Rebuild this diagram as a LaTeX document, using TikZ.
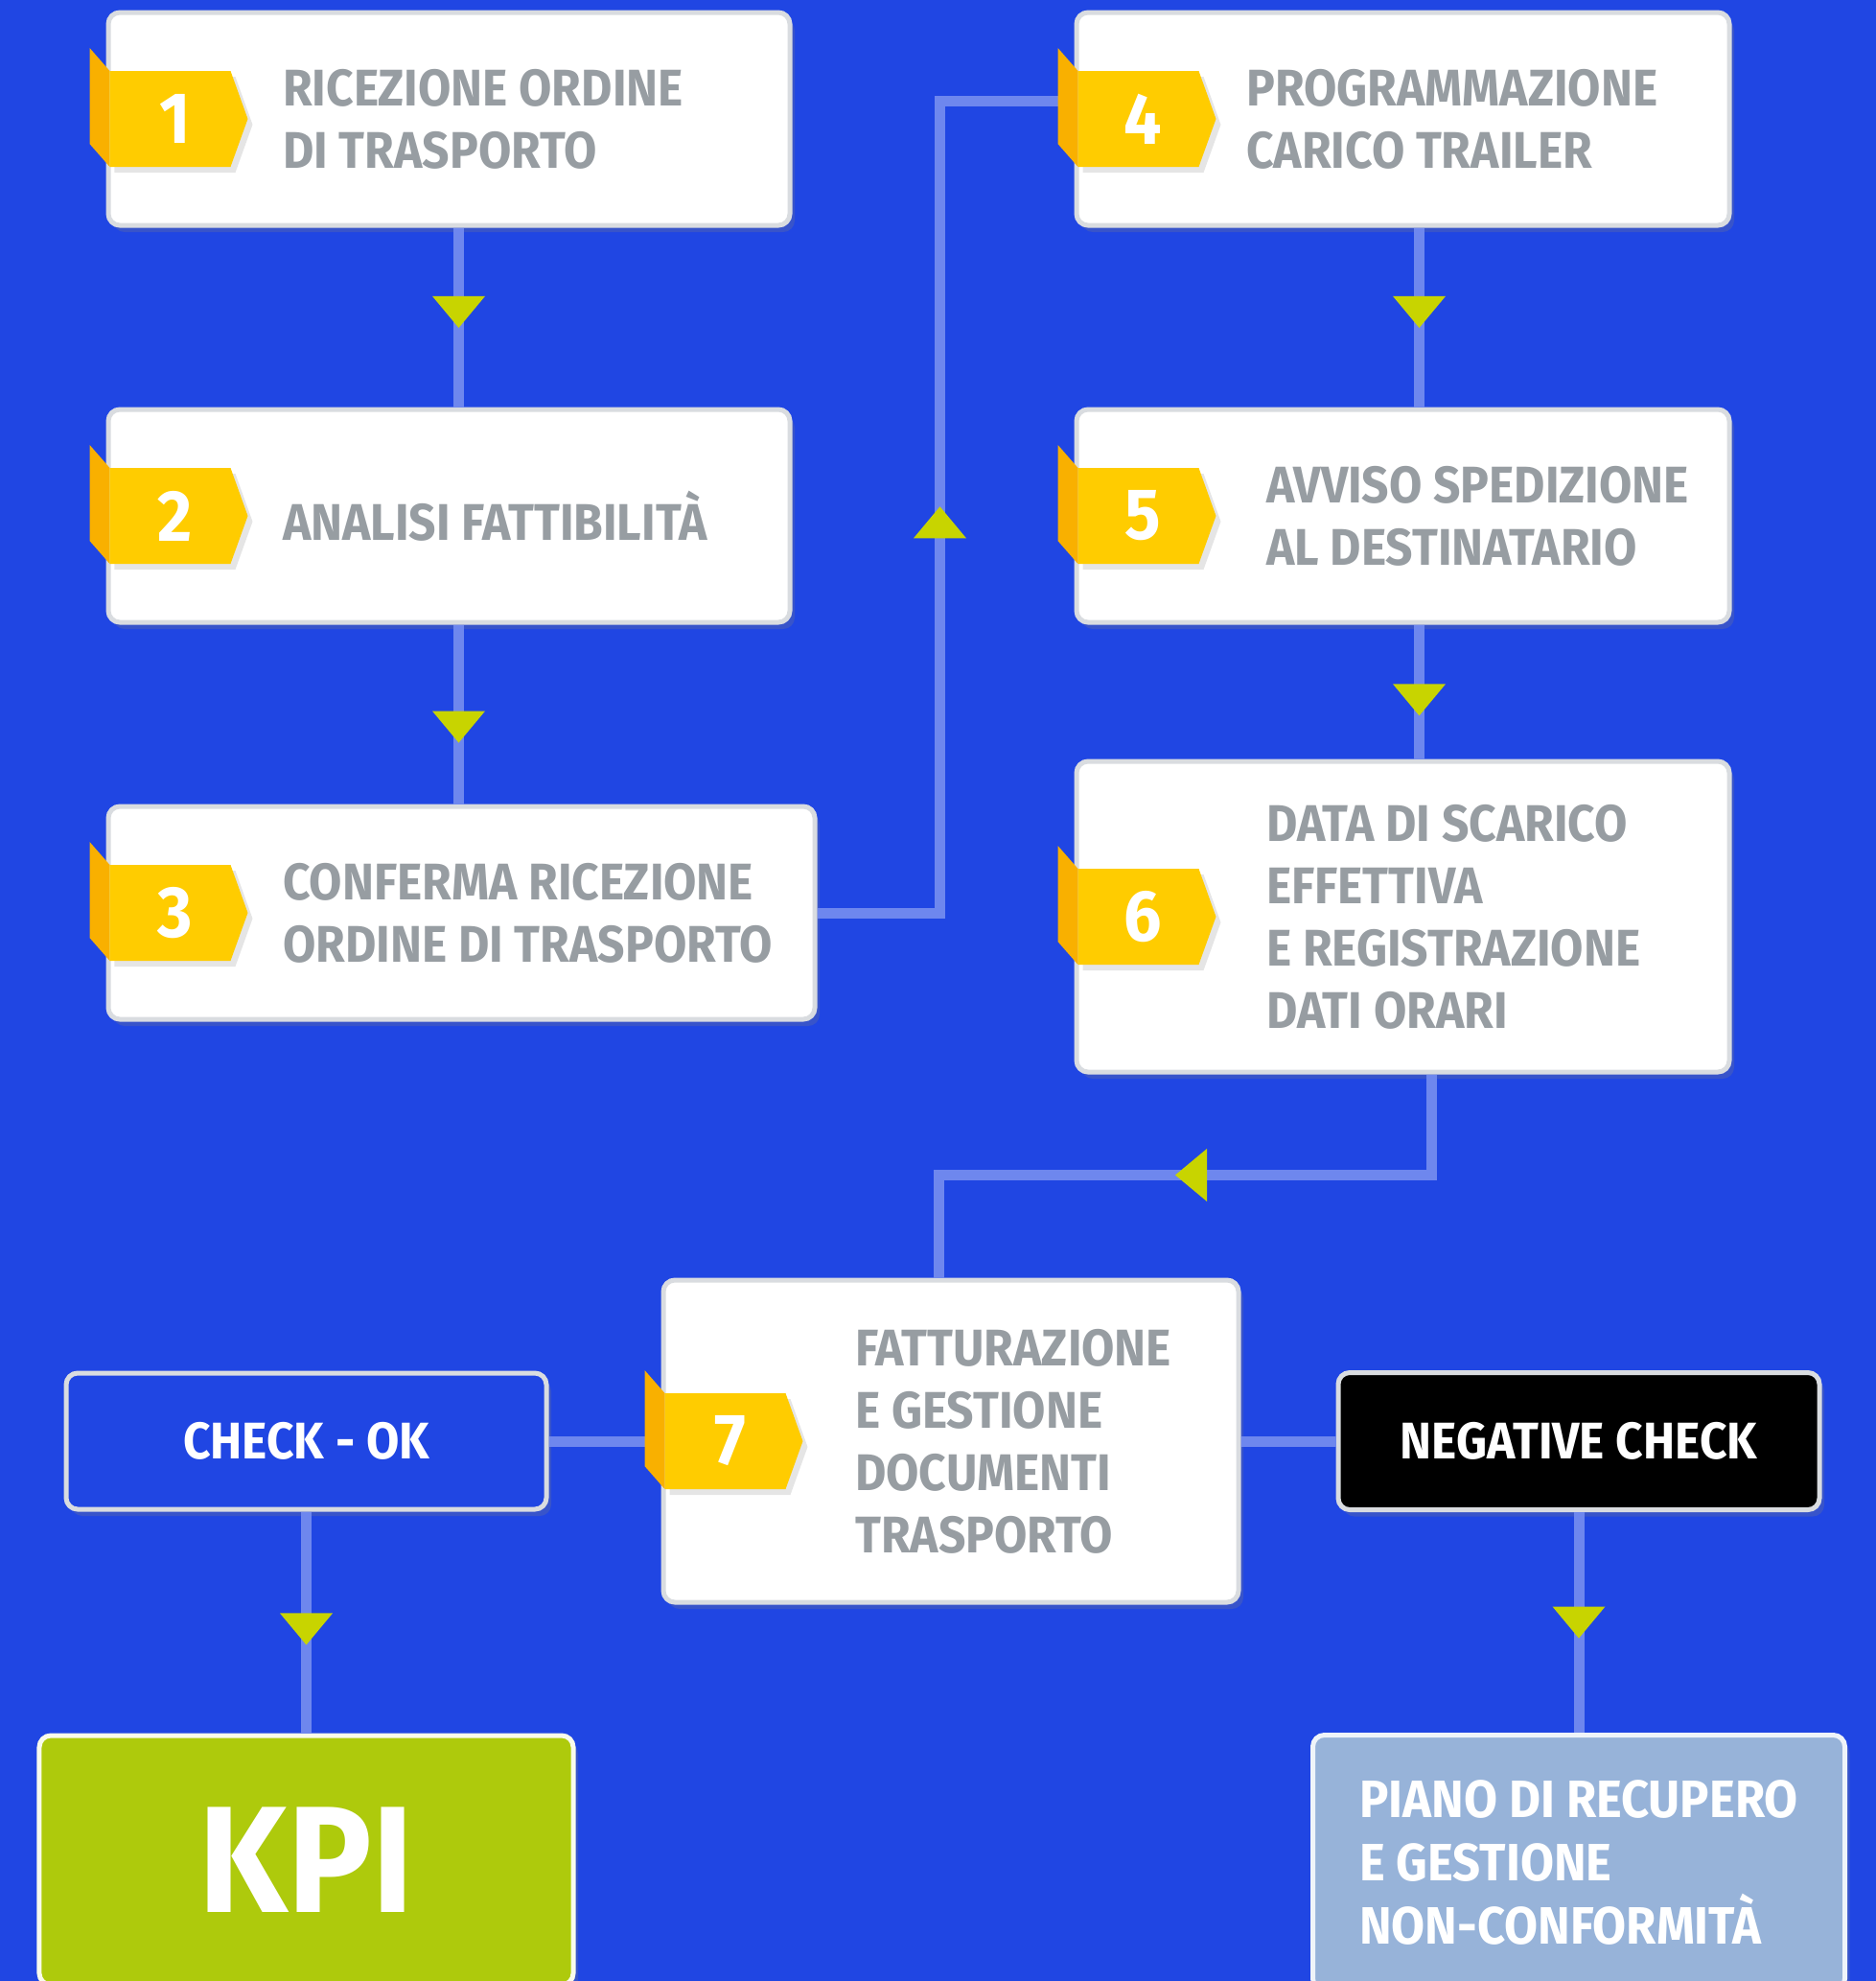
\documentclass[tikz,border=0pt]{standalone}
\usepackage{fontspec}
\setmainfont{Fira Sans}[FakeStretch=0.925]
\usetikzlibrary{positioning,calc,shadows,decorations.markings}
\definecolor{bgblue}{HTML}{2046E3}
\definecolor{linec}{HTML}{6E87EE}
\definecolor{arrowc}{HTML}{C8D400}
\definecolor{badgec}{HTML}{FFCC00}
\definecolor{foldc}{HTML}{F9B000}
\definecolor{boxgray}{HTML}{D9DCE0}
\definecolor{txtgray}{HTML}{979DA2}
\definecolor{kpigreen}{HTML}{AECA0C}
\definecolor{pianoblue}{HTML}{97B3D9}
\tikzset{stepbox/.style={draw=boxgray,line width=0.05cm,fill=white,rounded corners=0.12cm,minimum width=7.11cm,minimum height=2.22cm,
           drop shadow={opacity=0.25,shadow xshift=0.05cm,shadow yshift=-0.07cm}},
         steptext/.style={inner sep=0pt,text=txtgray,font=\bfseries\fontsize{15.3}{18.5}\selectfont,align=left},
         checkbox/.style={draw=boxgray,line width=0.05cm,rounded corners=0.12cm,text=white,font=\bfseries\fontsize{15.3}{19}\selectfont,
           drop shadow={opacity=0.25,shadow xshift=0.05cm,shadow yshift=-0.07cm}},
         badgenum/.style={text=white,font=\bfseries\fontsize{21.5}{24}\selectfont},
         line/.style={draw=linec,line width=0.11cm},
         midarrow/.style={postaction={decorate},decoration={markings,mark=at position #1 with {\fill[arrowc] (0.165,0) -- (-0.165,0.275) -- (-0.165,-0.275) -- cycle;}}}
}
\newcommand{\stepbadge}[2]{%
  \begin{scope}[shift={(#1.west)}]
    \fill[foldc] (-0.17,0.74) -- (0.04,0.5) -- (0.04,-0.5) -- (-0.17,-0.26) -- cycle;
    \fill[badgec,drop shadow={opacity=0.2,shadow xshift=0.05cm,shadow yshift=-0.06cm}] (0.04,0.5) -- (1.30,0.5) -- (1.48,0) -- (1.30,-0.5) -- (0.04,-0.5) -- cycle;
    \node[badgenum] (#1num) at (0.72,0) {#2};
  \end{scope}}

\begin{document}
\begin{tikzpicture}

\fill[bgblue] (0,0) rectangle (19.57,-20.66);
\useasboundingbox (0,0) rectangle (19.57,-20.66);

\node[stepbox] (ricezione) at (4.685,-1.24) {};
\node[stepbox,below=1.87cm of ricezione] (analisi) {};
\node[stepbox,minimum width=7.37cm,below right=1.87cm and 0cm of analisi.south west] (conferma) {};
\node[stepbox,minimum width=6.81cm,right=2.94cm of ricezione] (programmazione) {};
\node[stepbox,minimum width=6.81cm,below=1.87cm of programmazione] (avviso) {};
\node[stepbox,minimum width=6.81cm,minimum height=3.24cm,below=1.40cm of avviso] (scarico) {};
\node[stepbox,minimum width=6cm,minimum height=3.36cm] (fatturazione) at (9.92,-15.03) {};
\node[checkbox,fill=bgblue,minimum width=5.01cm,minimum height=1.42cm,left=1.17cm of fatturazione] (checkok) {CHECK - OK};
\node[checkbox,fill=black,minimum width=5.02cm,minimum height=1.43cm,right=0.99cm of fatturazione] (negcheck) {NEGATIVE CHECK};
\node[checkbox,draw=white!92!kpigreen,fill=kpigreen,minimum width=5.57cm,minimum height=2.6cm,font=\bfseries\fontsize{45}{48}\selectfont,below=2.31cm of checkok] (kpi) {KPI};
\node[checkbox,draw=white!85!pianoblue,fill=pianoblue,minimum width=5.55cm,minimum height=2.66cm,align=left,
      font=\bfseries\fontsize{15.6}{18.8}\selectfont,below=2.30cm of negcheck] (piano) {PIANO DI RECUPERO\\E GESTIONE\\NON-CONFORMITÀ};

\draw[line,midarrow=0.47] ([xshift=0.1cm]ricezione.south) -- ([xshift=0.1cm]analisi.north);
\draw[line,midarrow=0.57] ([xshift=0.1cm]analisi.south) -- ([xshift=0.1cm]analisi.south |- conferma.north);
\draw[line,midarrow=0.48] (conferma.east) -- ++(1.28,0) |- ([yshift=0.19cm]programmazione.west);
\draw[line,midarrow=0.47] ([xshift=0.17cm]programmazione.south) -- ([xshift=0.17cm]avviso.north);
\draw[line,midarrow=0.56] ([xshift=0.17cm]avviso.south) -- ([xshift=0.17cm]scarico.north);
\draw[line,midarrow=0.49] ([xshift=0.3cm]scarico.south) -- ++(0,-1.05) -| ([xshift=-0.13cm]fatturazione.north);
\draw[line] (fatturazione) -- (checkok);
\draw[line] (fatturazione) -- (negcheck);
\draw[line,midarrow=0.53] (checkok) -- (kpi);
\draw[line,midarrow=0.5] (negcheck) -- (piano);

\stepbadge{ricezione}{1}
\stepbadge{analisi}{2}
\stepbadge{conferma}{3}
\stepbadge{programmazione}{4}
\stepbadge{avviso}{5}
\stepbadge{scarico}{6}
\stepbadge{fatturazione}{7}

\node[steptext,right=1.84cm of ricezione.west] (ricezionetxt) {RICEZIONE ORDINE\\DI TRASPORTO};
\node[steptext,right=1.84cm of analisi.west] (analisitxt) {ANALISI FATTIBILITÀ};
\node[steptext,right=1.84cm of conferma.west] (confermatxt) {CONFERMA RICEZIONE\\ORDINE DI TRASPORTO};
\node[steptext,right=1.79cm of programmazione.west] (programmazionetxt) {PROGRAMMAZIONE\\CARICO TRAILER};
\node[steptext,right=2cm of avviso.west] (avvisotxt) {AVVISO SPEDIZIONE\\AL DESTINATARIO};
\node[steptext,right=2cm of scarico.west] (scaricotxt) {DATA DI SCARICO\\EFFETTIVA\\E REGISTRAZIONE\\DATI ORARI};
\node[steptext,right=2.02cm of fatturazione.west] (fatturazionetxt) {FATTURAZIONE\\E GESTIONE\\DOCUMENTI\\TRASPORTO};

\end{tikzpicture}
\end{document}
